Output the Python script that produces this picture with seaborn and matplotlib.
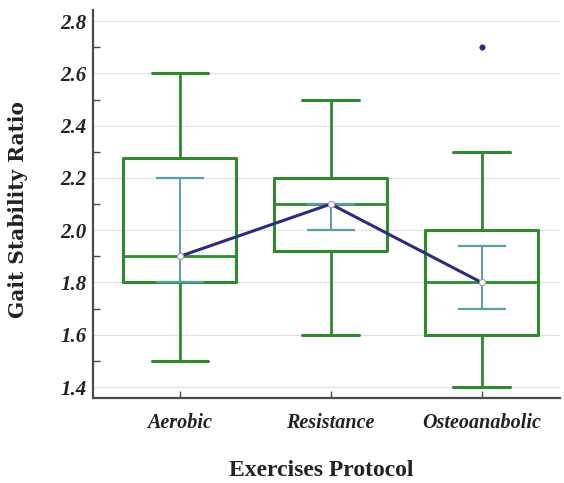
import numpy as np
import pandas as pd
import matplotlib
matplotlib.use("Agg")
import matplotlib.pyplot as plt
import seaborn as sns

# ---- data ----
categories = ["Aerobic", "Resistance", "Osteoanabolic"]
whisker_low = [1.5, 1.6, 1.4]
q1 = [1.8, 1.92, 1.6]
median = [1.9, 2.1, 1.8]
q3 = [2.275, 2.2, 2.0]
whisker_high = [2.6, 2.5, 2.3]
outlier_cat = ["Osteoanabolic"]
outlier_val = [2.7]
means = [1.9, 2.1, 1.8]
ci_low = [1.8, 2.0, 1.70]
ci_high = [2.2, 2.1, 1.94]
y_ticks = [1.4, 1.6, 1.8, 2.0, 2.2, 2.4, 2.6, 2.8]

# five-number data per group so that seaborn computes the same box stats
rows = []
for c, a, b, m, d, e in zip(categories, whisker_low, q1, median, q3, whisker_high):
    for v in (a, b, m, d, e):
        rows.append({"cat": c, "val": v})
df = pd.DataFrame(rows)

sns.set_style("white")
plt.rcParams["font.family"] = ["Liberation Serif", "DejaVu Serif"]

GREEN = "#2f8a2f"
TEAL = "#5c9ea6"
NAVY = "#2d2d7c"
AX = "#4a4a4a"
TXT = "#222222"

fig = plt.figure(figsize=(5.64, 4.83), dpi=100)
ax = fig.add_axes([0.165, 0.176, 0.828, 0.803])

ax.set_axisbelow(True)
ax.grid(True, axis="both", color="#e2e2e2", linewidth=0.9)

sns.boxplot(data=df, x="cat", y="val", order=categories, ax=ax,
            width=0.75, whis=(0, 100), showfliers=False, fill=False,
            color=GREEN, linewidth=2.2,
            boxprops=dict(color=GREEN, linewidth=2.2),
            medianprops=dict(color=GREEN, linewidth=2.0),
            whiskerprops=dict(color=GREEN, linewidth=2.0),
            capprops=dict(color=GREEN, linewidth=2.2))

xpos = np.arange(len(categories))
yerr = [np.array(means) - np.array(ci_low), np.array(ci_high) - np.array(means)]
ax.errorbar(xpos, means, yerr=yerr, fmt="none", ecolor=TEAL, elinewidth=1.4,
            capsize=17.5, capthick=1.6, zorder=3)

ax.plot(xpos, means, color=NAVY, linewidth=2.2, zorder=4)
ax.plot(xpos, means, linestyle="none", marker="o", markersize=4.5,
        markerfacecolor="white", markeredgecolor="#9a9ab8", markeredgewidth=0.8,
        zorder=5)

sns.scatterplot(x=outlier_cat, y=outlier_val, ax=ax, color=NAVY, s=16,
                edgecolor=NAVY, zorder=5)

ax.set_xlim(-0.575, 2.52)
ax.set_ylim(1.358, 2.842)
ax.set_yticks(y_ticks)
ax.set_yticklabels([f"{t:.1f}" for t in y_ticks], fontstyle="italic",
                   fontweight="bold", color=TXT, fontsize=15)
ax.set_yticks(np.arange(1.5, 2.8, 0.2), minor=True)
ax.set_xticks(xpos)
ax.set_xticklabels(categories, fontstyle="italic", fontweight="bold",
                   color=TXT, fontsize=14.5)

for s in ["top", "right"]:
    ax.spines[s].set_visible(False)
for s in ["left", "bottom"]:
    ax.spines[s].set_color(AX)
    ax.spines[s].set_linewidth(1.6)

ax.tick_params(axis="y", which="major", direction="in", length=8, width=1.2,
               color=AX, pad=4.5)
ax.tick_params(axis="y", which="minor", direction="in", length=5, width=1.0,
               color=AX, left=True)
ax.tick_params(axis="x", direction="in", length=5, width=1.0, color=AX,
               pad=11, bottom=True)

ax.set_xlabel("Exercises Protocol", fontsize=17, fontweight="bold", color=TXT,
              va="center")
ax.set_ylabel("Gait Stability Ratio", fontsize=14.5, fontweight="bold",
              color=TXT, family=["DejaVu Serif"])
ax.xaxis.set_label_coords(0.488, -0.186)
ax.yaxis.set_label_coords(-0.14, 0.487)

fig.savefig("out.png", dpi=100)
